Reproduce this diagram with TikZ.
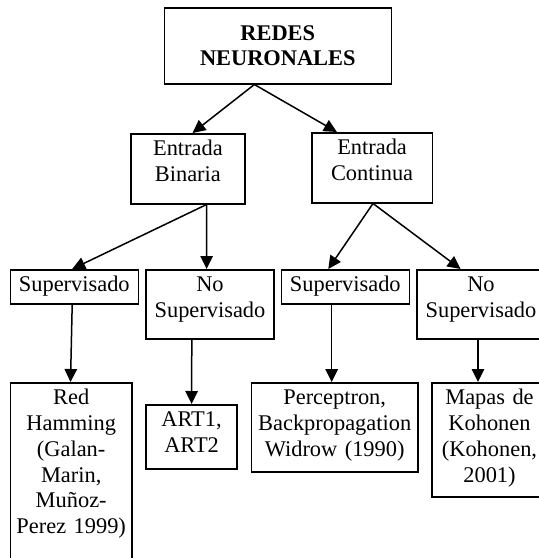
\documentclass[tikz,border=0pt]{standalone}
\usepackage{fontspec}
\setmainfont{Liberation Serif}
\usetikzlibrary{arrows.meta,calc}
\tikzstyle{clase} = [rectangle, draw = black, line width = 1.5pt, anchor = north, align = center, inner xsep = 0pt, inner ysep = 7pt, text height = 15pt, font = \fontsize{22.4}{25.8}\selectfont]
\tikzstyle{arrow} = [line width = 1.5pt, -{Triangle[length = 13pt, width = 12.5pt]}]

\begin{document}
\begin{tikzpicture}[x = 1pt, y = -1pt]
	\useasboundingbox (0,0) rectangle (539,558);
	\clip (0,0) rectangle (539,558);

	\node[clase, text width = 227pt, text height = 25.3pt, text depth = 36.7pt, font = \fontsize{22.4}{25.7}\selectfont\bfseries](redes) at (277.8,7){REDES\\NEURONALES};
	\node[clase, text width = 113.8pt, text depth = 41pt](binaria) at (187.9,133){Entrada\\Binaria};
	\node[clase, text width = 120.6pt, text depth = 41pt](continua) at (372.1,132){Entrada\\Continua};
	\node[clase, text width = 128pt, text depth = 5pt](supb) at (74.3,269){Supervisado};
	\node[clase, text width = 128pt, text depth = 40pt](nosupb) at (210,269){No\\Supervisado};
	\node[clase, text width = 128pt, text depth = 5pt](supc) at (345.3,269){Supervisado};
	\node[clase, text width = 128pt, text depth = 40pt](nosupc) at (481,269){No\\Supervisado};
	\node[clase, text width = 121.7pt, text depth = 171pt](hamming) at (71.2,382){Red\\Hamming\\(Galan-\\Marin,\\Muñoz-\\Perez 1999)};
	\node[clase, text width = 91pt, text depth = 35pt](art) at (191.6,404){ART1,\\ART2};
	\node[clase, text width = 166.7pt, text depth = 60pt](perceptron) at (334.7,382){Perceptron,\\Backpropagation\\Widrow (1990)};
	\node[clase, text width = 114.8pt, text depth = 85pt](kohonen) at (489.5,382){Mapas de\\Kohonen\\(Kohonen,\\2001)};

	\draw [arrow]($(redes.south)+(-23.4,0)$)--($(binaria.north)+(4.6,0)$);
	\draw [arrow]($(redes.south)+(-23.4,0)$)--($(continua.north)+(-35.2,0)$);
	\draw [arrow]($(binaria.south)+(18.7,0)$)--($(supb.north)+(-2.1,0)$);
	\draw [arrow]($(binaria.south)+(18.7,0)$)--($(nosupb.north)+(-3.4,0)$);
	\draw [arrow]($(continua.south)+(0.9,0)$)--($(supc.north)+(-17,0)$);
	\draw [arrow]($(continua.south)+(0.9,0)$)--($(nosupc.north)+(-20.4,0)$);
	\draw [arrow]($(supb.south)+(-2.1,0)$)--($(hamming.north)+(-0.7,0)$);
	\draw [arrow]($(nosupb.south)+(-18.2,0)$)--(art.north);
	\draw [arrow]($(supc.south)+(-13.6,0)$)--($(perceptron.north)+(-3,0)$);
	\draw [arrow]($(nosupc.south)+(-3,0)$)--($(kohonen.north)+(-11.5,0)$);

\end{tikzpicture}
\end{document}
